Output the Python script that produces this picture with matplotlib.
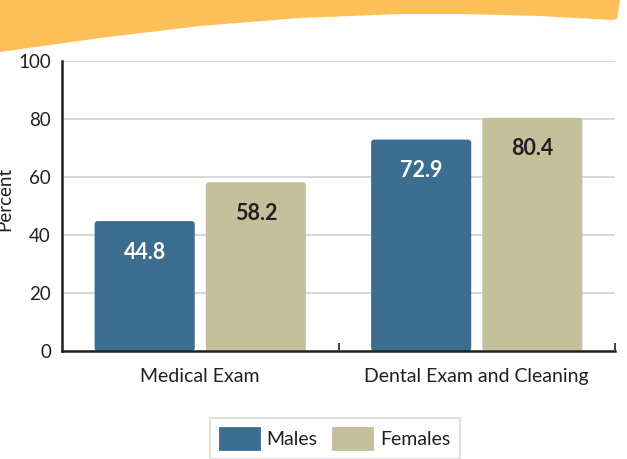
import numpy as np
import matplotlib
matplotlib.use("Agg")
import matplotlib.pyplot as plt
from matplotlib.patches import FancyBboxPatch, Polygon, Patch

plt.rcParams['font.family'] = ['Lato', 'DejaVu Sans']

# data
categories = ["Medical Exam", "Dental Exam and Cleaning"]
males = [44.8, 72.9]
females = [58.2, 80.4]
series = ["Males", "Females"]
colors = ["#3a6d8f", "#c4c09b"]
label_colors = ["white", "#231f20"]

fig = plt.figure(figsize=(6.27, 4.59), dpi=100)
W, H = 627.0, 459.0

# orange banner across the top
pts = [(0, 0), (0, 52), (100, 38), (200, 26), (300, 18), (400, 14), (460, 14),
       (540, 16), (612, 20), (617, 19), (620, 0)]
banner = Polygon([(x / W, 1 - y / H) for x, y in pts], closed=True,
                 transform=fig.transFigure, facecolor="#fdbf57", edgecolor="none")
fig.patches.append(banner)

ax = fig.add_axes([62 / W, 1 - 351 / H, (615 - 62) / W, (351 - 61) / H])

x = np.arange(len(categories))
width = 0.362
off = 0.201
bars_m = ax.bar(x - off, males, width, color=colors[0])
bars_f = ax.bar(x + off, females, width, color=colors[1])

# swap plain rectangles for slightly rounded ones
for bars, col in [(bars_m, colors[0]), (bars_f, colors[1])]:
    for b in bars:
        b.set_visible(False)
        p = FancyBboxPatch((b.get_x(), 0), b.get_width(), b.get_height(),
                           boxstyle="round,pad=0,rounding_size=0.011",
                           mutation_aspect=94, facecolor=col, edgecolor="none", zorder=2)
        ax.add_patch(p)

for bars, vals, lc in [(bars_m, males, label_colors[0]), (bars_f, females, label_colors[1])]:
    for b, v in zip(bars, vals):
        ax.text(b.get_x() + b.get_width() / 2, v - 10.7, f"{v:.1f}", ha="center", va="center",
                color=lc, fontsize=15.5, fontweight="bold", zorder=3)

ax.set_xlim(-0.5, 1.5)
ax.set_ylim(0, 100)
ax.set_yticks([0, 20, 40, 60, 80, 100])
ax.yaxis.grid(True, color="#d9d9d9", linewidth=1.5)
ax.set_axisbelow(True)
ax.tick_params(axis="y", length=0, labelsize=13.5, colors="#231f20", pad=8)

ax.set_xticks(x)
ax.set_xticklabels(categories)
ax.tick_params(axis="x", length=0, labelsize=14, colors="#231f20", pad=12)
# category separators pointing up
ax.set_xticks([0.5, 1.5], minor=True)
ax.tick_params(axis="x", which="minor", direction="in", length=6, width=1.2, color="#231f20")

for s in ["top", "right"]:
    ax.spines[s].set_visible(False)
for s in ["left", "bottom"]:
    ax.spines[s].set_color("#231f20")
    ax.spines[s].set_linewidth(1.8)

fig.text(5 / W, 1 - 199 / H, "Percent", rotation=90, ha="center", va="center",
         fontsize=13.5, color="#231f20")

handles = [Patch(facecolor=c, edgecolor=c, linewidth=2, joinstyle="round") for c in colors]
leg = fig.legend(handles, series, loc="upper center", bbox_to_anchor=(335 / W, 1 - 418 / H),
                 ncol=2, frameon=True, fancybox=False, edgecolor="#d9d9d9", fontsize=14,
                 handlelength=2.0, handleheight=1.3, borderpad=0.5, columnspacing=0.8,
                 handletextpad=0.4, borderaxespad=0)
leg.get_frame().set_linewidth(1.5)
for t in leg.get_texts():
    t.set_color("#231f20")

fig.savefig("out.png", dpi=100)
